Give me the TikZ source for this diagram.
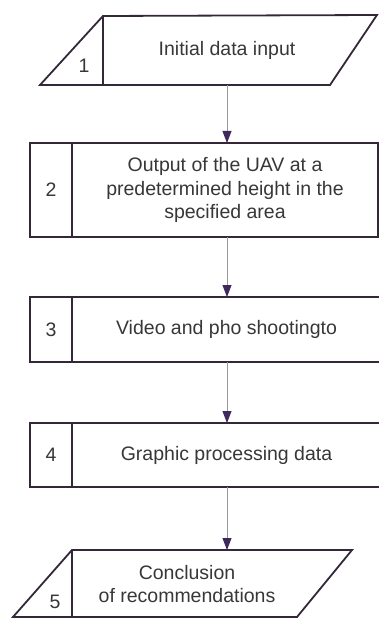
\documentclass[tikz,border=0pt]{standalone}
\usepackage{fontspec}
\setmainfont{Liberation Sans}
\usetikzlibrary{arrows.meta,positioning}
\definecolor{inkline}{RGB}{52,40,56}
\definecolor{tipcol}{RGB}{62,40,92}
\definecolor{txtcol}{RGB}{55,55,55}

\begin{document}
\begin{tikzpicture}[x=1pt, y=-1pt,
    txtbox/.style={draw=inkline, line width=1.8pt, outer sep=0pt, minimum width=306pt, align=center, inner sep=2pt, text=txtcol, font=\fontsize{19.5}{23.5}\selectfont},
    numbox/.style={draw=inkline, line width=1.8pt, outer sep=0pt, minimum width=42pt, text=txtcol, font=\fontsize{19.5}{23.5}\selectfont},
    plain/.style={text=txtcol, align=center, inner sep=0pt, font=\fontsize{19.5}{22.5}\selectfont},
    outline/.style={draw=inkline, line width=1.8pt, line join=miter},
    line/.style={-{Triangle[length=12pt, width=9pt, color=tipcol]}, gray!80, line width=0.8pt}
]
\useasboundingbox (0,0) rectangle (379,620);

% block 1 (input)
\draw[outline] (40,85) -- (103,16) -- (377,15) -- (330,85) -- cycle;
\draw[outline] (103,16) -- (103,85);
\node[plain] (t1) at (227,50) {Initial data input};
\node[plain] (n1) at (84,66) {1};
\coordinate (b1) at (227,85);

% block 2
\node[txtbox, minimum height=94pt] (t2) at (225,190) {Output of the UAV at a\\predetermined height in the\\specified area};
\node[numbox, minimum height=94pt, left=0pt of t2] (n2) {2};

% block 3
\node[txtbox, minimum width=309pt, minimum height=65pt] (t3) at (226.5,329.5) {Video and pho shootingto};
\node[numbox, minimum height=65pt, left=0pt of t3] (n3) {3};

% block 4
\node[txtbox, minimum width=309pt, minimum height=64pt] (t4) at (226.5,455) {Graphic processing data};
\node[numbox, minimum height=64pt, left=0pt of t4] (n4) {4};

% block 5 (output)
\draw[outline] (13,617) -- (72,550) -- (352,550) -- (297,617) -- cycle;
\draw[outline] (72,550) -- (72,617);
\node[plain] (t5) at (187,584) {Conclusion\\of recommendations};
\node[plain] (n5) at (55,602) {5};
\coordinate (b5) at (227,550);

\draw[line] (b1) -- (b1 |- t2.north);
\draw[line] (b1 |- t2.south) -- (b1 |- t3.north);
\draw[line] (b1 |- t3.south) -- (b1 |- t4.north);
\draw[line] (b1 |- t4.south) -- (b5);
\end{tikzpicture}
\end{document}
